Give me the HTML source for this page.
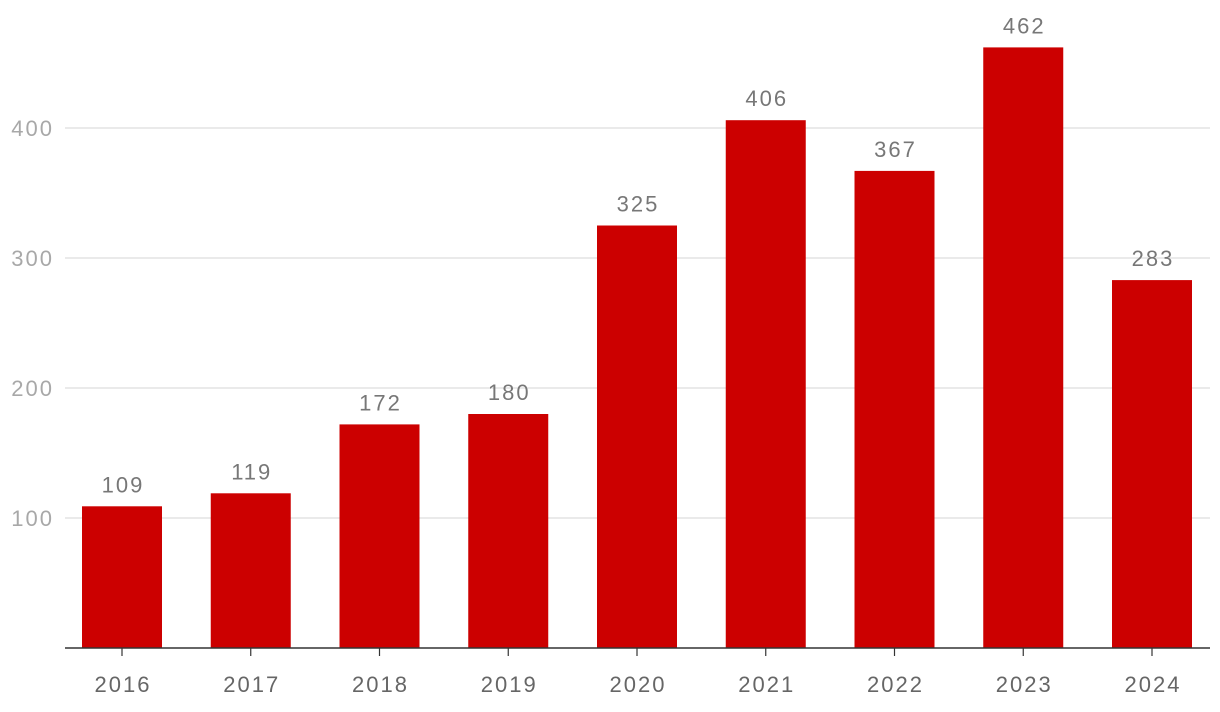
<!DOCTYPE html>
<html><head><meta charset="utf-8"><style>
html,body{margin:0;padding:0;background:#fff;}
svg{display:block;font-family:"Liberation Sans",sans-serif;}
text{letter-spacing:2px;}
</style></head><body>
<svg id="chart" width="1220" height="712"></svg>
<script>
const categories = ["2016","2017","2018","2019","2020","2021","2022","2023","2024"];
const values = [109,119,172,180,325,406,367,462,283];
const yTicks = [100,200,300,400];

const NS = "http://www.w3.org/2000/svg";
const svg = document.getElementById("chart");
const baseY = 648, pxPerUnit = 1.3;
const y = v => baseY - v * pxPerUnit;
const firstCenter = 122, step = 128.75, barW = 80;
const x = i => firstCenter + i * step;
function mk(tag, attrs, text){
  const e = document.createElementNS(NS, tag);
  for (const k in attrs) e.setAttribute(k, attrs[k]);
  if (text !== undefined) e.textContent = text;
  svg.appendChild(e);
  return e;
}
yTicks.forEach(t => {
  const g = mk("line",{x1:65,x2:1210,y1:y(t),y2:y(t),stroke:"#e3e3e3","stroke-width":1.5});
  
  
  const l = mk("text",{x:54,y:y(t)+8,"text-anchor":"end","font-size":22,fill:"#a8a8a8"}, String(t));
  
  
});
categories.forEach((c,i) => {
  const b = mk("rect",{x:x(i)-barW/2,y:y(values[i]),width:barW,height:values[i]*pxPerUnit,fill:"#cc0000"});
  
  
  const v = mk("text",{x:x(i)+1,y:y(values[i])-14,"text-anchor":"middle","font-size":22,fill:"#777"}, String(values[i]));
  
  
  const tk = mk("line",{x1:x(i),x2:x(i),y1:baseY,y2:baseY+8,stroke:"#333","stroke-width":1.2});
  
  
  const xl = mk("text",{x:x(i)+1,y:692,"text-anchor":"middle","font-size":22,fill:"#666"}, c);
  
  
});
const ax = mk("line",{x1:65,x2:1210,y1:baseY,y2:baseY,stroke:"#333","stroke-width":1.5});


</script>
</body></html>
